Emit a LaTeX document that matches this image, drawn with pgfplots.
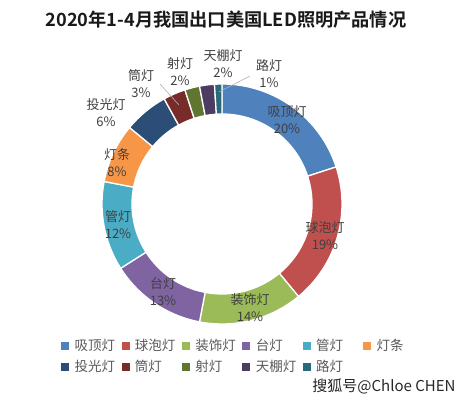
\documentclass[border=0pt]{standalone}
\usepackage{pgfplots}
\pgfplotsset{compat=1.18}
\usepackage{pgfplotstable}
\usepackage{fontspec}
\setmainfont{Noto Sans CJK SC}
\newfontfamily\cjkbold{Noto Sans CJK SC}[BoldFont={Noto Sans CJK SC Bold}]
\definecolor{c0}{HTML}{4F81BD}
\definecolor{c1}{HTML}{C0504D}
\definecolor{c2}{HTML}{9BBB59}
\definecolor{c3}{HTML}{8064A2}
\definecolor{c4}{HTML}{4BACC6}
\definecolor{c5}{HTML}{F79646}
\definecolor{c6}{HTML}{2C4D75}
\definecolor{c7}{HTML}{772C2A}
\definecolor{c8}{HTML}{5F7530}
\definecolor{c9}{HTML}{4D3B62}
\definecolor{c10}{HTML}{276A7C}
\definecolor{labc}{HTML}{404040}
\definecolor{legc}{HTML}{595959}
\pgfplotstableread{
name value
吸顶灯 20
球泡灯 19
装饰灯 14
台灯 13
管灯 12
灯条 8
投光灯 6
筒灯 3
射灯 2
天棚灯 2
路灯 1
}\datatable
\begin{document}
\begin{tikzpicture}
\begin{axis}[
  x=1pt, y=1pt, xmin=0, xmax=472, ymin=0, ymax=401,
  scale only axis, hide axis, clip=false,
  legend columns=6,
  legend style={at={(axis cs:58,65)}, anchor=north west, draw=none, fill=none,
    font=\fontsize{13.5}{16}\selectfont, text=legc,
    nodes={text width=42pt, align=left, inner sep=1pt},
    row sep=6pt,
    /tikz/every odd column/.append style={column sep=5pt},
    /tikz/every even column/.append style={column sep=4pt}},
  legend image code/.code={\fill[#1] (0pt,-3.5pt) rectangle (7pt,3.5pt);},
]
\path (axis cs:0,0) rectangle (axis cs:472,401);
\pgfplotstablegetrowsof{\datatable}
\pgfmathtruncatemacro{\N}{\pgfplotsretval-1}
\def\cum{0}
\pgfplotsforeachungrouped \i in {0,...,\N}{%
  \pgfplotstablegetelem{\i}{value}\of\datatable
  \let\v\pgfplotsretval
  \pgfmathsetmacro{\aS}{90-3.6*\cum}%
  \pgfmathsetmacro{\aE}{90-3.6*(\cum+\v)}%
  \pgfmathsetmacro{\cum}{\cum+\v}%
  \edef\temp{\noexpand\fill[c\i, draw=white, line width=1.3pt]
    ([shift={(\aS:120pt)}]axis cs:222,197) arc[start angle=\aS, end angle=\aE, radius=120pt]
    -- ([shift={(\aE:90pt)}]axis cs:222,197) arc[start angle=\aE, end angle=\aS, radius=90pt] -- cycle;}%
  \temp
}
% leader lines
\draw[gray!60, line width=0.6pt] (axis cs:160,317) -- (axis cs:179,296);
\draw[gray!60, line width=0.6pt] (axis cs:219,309) -- (axis cs:250,325);
% data labels
\begin{scope}[every node/.style={align=center, text=labc, font=\fontsize{13}{17}\selectfont, inner sep=0pt}]
\node at (axis cs:287,281) {吸顶灯\\20\%};
\node at (axis cs:325,165) {球泡灯\\19\%};
\node at (axis cs:250,93) {装饰灯\\14\%};
\node at (axis cs:163,109) {台灯\\13\%};
\node at (axis cs:118,176) {管灯\\12\%};
\node at (axis cs:117,238) {灯条\\8\%};
\node at (axis cs:106,288) {投光灯\\6\%};
\node at (axis cs:141,317) {筒灯\\3\%};
\node at (axis cs:180,329) {射灯\\2\%};
\node at (axis cs:223,337) {天棚灯\\2\%};
\node at (axis cs:269,327) {路灯\\1\%};
\end{scope}
% title
\node[font=\cjkbold\bfseries\fontsize{18.2}{22}\selectfont, text=black!90] at (axis cs:226,381) {2020年1-4月我国出口美国LED照明产品情况};
% watermark
\node[font=\fontsize{15}{17}\selectfont, text=black!85] at (axis cs:384,15) {搜狐号@Chloe CHEN};
% legend
\addlegendimage{c0}\addlegendentry{吸顶灯}
\addlegendimage{c1}\addlegendentry{球泡灯}
\addlegendimage{c2}\addlegendentry{装饰灯}
\addlegendimage{c3}\addlegendentry{台灯}
\addlegendimage{c4}\addlegendentry{管灯}
\addlegendimage{c5}\addlegendentry{灯条}
\addlegendimage{c6}\addlegendentry{投光灯}
\addlegendimage{c7}\addlegendentry{筒灯}
\addlegendimage{c8}\addlegendentry{射灯}
\addlegendimage{c9}\addlegendentry{天棚灯}
\addlegendimage{c10}\addlegendentry{路灯}
\end{axis}
\end{tikzpicture}
\end{document}
